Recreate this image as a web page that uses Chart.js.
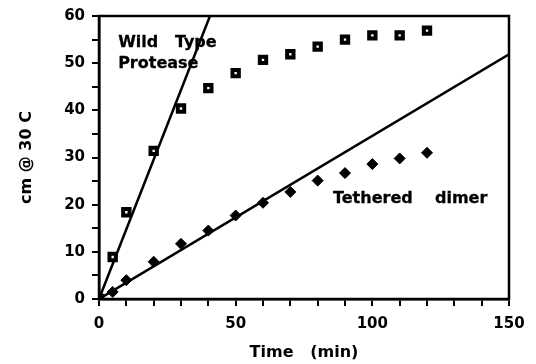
<!DOCTYPE html>
<html>
<head>
<meta charset="utf-8">
<script src="https://cdn.jsdelivr.net/npm/chart.js@4/dist/chart.umd.min.js"></script>
<style>
  html,body{margin:0;padding:0;background:#fff;}
  canvas{display:block;}
</style>
</head>
<body>
<canvas id="c" width="536" height="364"></canvas>
<script>
// data
const wtTime   = [0, 5, 10, 20, 30, 40, 50, 60, 70, 80, 90, 100, 110, 120];
const wtCm     = [0, 8.9, 18.4, 31.4, 40.4, 44.7, 47.9, 50.7, 51.9, 53.5, 55.0, 55.9, 55.9, 56.9];
const tdTime   = [0, 5, 10, 20, 30, 40, 50, 60, 70, 80, 90, 100, 110, 120];
const tdCm     = [0, 1.5, 4.0, 7.9, 11.7, 14.5, 17.7, 20.4, 22.7, 25.1, 26.7, 28.6, 29.8, 31.0];
// fitted lines (end points)
const wtFitX   = [0, 40.6];
const wtFitY   = [0, 60];
const tdFitX   = [0, 150];
const tdFitY   = [0, 51.9];
const xLabels  = [0, 50, 100, 150];
const yLabels  = [0, 10, 20, 30, 40, 50, 60];

const pts = (xs, ys) => xs.map((x,i)=>({x, y:ys[i]}));
const FONT = "'DejaVu Sans', sans-serif";

// frame + text labels
const notes = [
  {text:'Wild   Type', x:7.0,  y:53.5},
  {text:'Protease',    x:7.0,  y:48.9},
  {text:'Tethered    dimer', x:85.6, y:20.4}
];
const extras = {
  id:'extras',
  afterDraw(chart){
    const {ctx, chartArea:a, scales:{x, y}} = chart;
    ctx.save();
    ctx.strokeStyle='#000'; ctx.lineWidth=2.5;
    ctx.strokeRect(a.left, a.top, a.right-a.left, a.bottom-a.top);
    ctx.fillStyle='#000';
    ctx.font = 'bold 16px ' + FONT;
    ctx.lineWidth = 0.3;
    ctx.textBaseline='alphabetic'; ctx.textAlign='left';
    notes.forEach(n=>{
      const px = x.getPixelForValue(n.x), py = y.getPixelForValue(n.y);
      ctx.fillText(n.text, px, py);
      ctx.strokeText(n.text, px, py);
    });
    ctx.restore();
  }
};

new Chart(document.getElementById('c'), {
  type:'scatter',
  data:{ datasets:[
    { label:'Wild Type', data:pts(wtTime, wtCm), pointStyle:'rect', pointRadius:4.5,
      backgroundColor:'#fff', borderColor:'#000', pointBorderWidth:4, showLine:false },
    { label:'Tethered dimer', data:pts(tdTime, tdCm), pointStyle:'rectRot', pointRadius:5.5,
      backgroundColor:'#000', borderColor:'#000', pointBorderWidth:1, showLine:false },
    { label:'WT fit', data:pts(wtFitX, wtFitY), showLine:true, borderColor:'#000', borderWidth:2.5, pointRadius:0 },
    { label:'TD fit', data:pts(tdFitX, tdFitY), showLine:true, borderColor:'#000', borderWidth:2.5, pointRadius:0 }
  ]},
  options:{
    responsive:false, animation:false, devicePixelRatio:1,
    layout:{ padding:{ top:14, right:27, left:0, bottom:0 } },
    plugins:{ legend:{display:false}, tooltip:{enabled:false} },
    scales:{
      x:{
        type:'linear', min:0, max:150,
        afterFit(s){ s.height = 65; },
        border:{display:true, color:'#000', width:2.5},
        grid:{drawOnChartArea:false, drawTicks:true, tickLength:7, color:'#000', lineWidth:2},
        ticks:{ stepSize:10, autoSkip:false, maxRotation:0, padding:9, color:'#000',
          font:{family:FONT, size:15, weight:'bold'},
          callback:v=> xLabels.includes(v) ? v : '' },
        title:{ display:true, text:'Time   (min)', color:'#000', padding:{top:0, bottom:2},
          font:{family:FONT, size:16, weight:'bold'} }
      },
      y:{
        type:'linear', min:0, max:60,
        afterFit(s){ s.width = 99; },
        border:{display:true, color:'#000', width:2.5},
        grid:{drawOnChartArea:false, drawTicks:true, tickLength:7, color:'#000', lineWidth:2},
        ticks:{ stepSize:5, autoSkip:false, padding:7, color:'#000',
          font:{family:FONT, size:15, weight:'bold'},
          callback:v=> yLabels.includes(v) ? v : '' },
        title:{ display:true, text:'cm @ 30 C', color:'#000', padding:{top:17, bottom:0},
          font:{family:FONT, size:16, weight:'bold'} }
      }
    }
  },
  plugins:[extras]
});
</script>
</body>
</html>
